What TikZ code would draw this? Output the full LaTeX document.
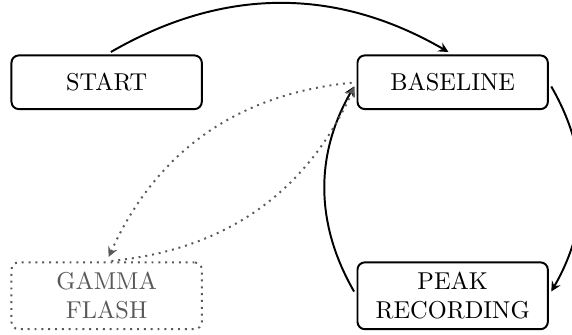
\documentclass[tikz,border=0pt]{standalone}
\usetikzlibrary{matrix}

\begin{document}
\begin{tikzpicture}[>=stealth, thick,
state/.style={draw, rounded corners=3pt, align=center, inner sep=4pt,
    minimum width=78pt, minimum height=22pt, anchor=center},
ghost/.style={state, dotted, draw=black!65, text=black!65},
trans/.style={->, shorten >=2pt, shorten <=2pt},
maybe/.style={trans, dotted, draw=black!65}]
\useasboundingbox (-114.6pt,-58.1pt) rectangle (119.8pt,78.8pt);
\matrix[column sep=63pt, row sep=62pt] (states) {
\node[state] (start) {START}; & \node[state] (baseline) {BASELINE};\\
\node[ghost] (gamma) {GAMMA\\FLASH}; & \node[state] (peak) {PEAK\\RECORDING};\\};
\draw[trans] (start.north) to[bend left=30] (baseline.north);
\draw[trans] (baseline.east) to[bend left=30] (peak.east);
\draw[trans] (peak.west) to[bend left=30] (baseline.west);
\draw[maybe] (baseline.west) to[bend right=30] (gamma.north);
\draw[maybe] (gamma.north) to[bend right=30] (baseline.west);
\end{tikzpicture}
\end{document}
